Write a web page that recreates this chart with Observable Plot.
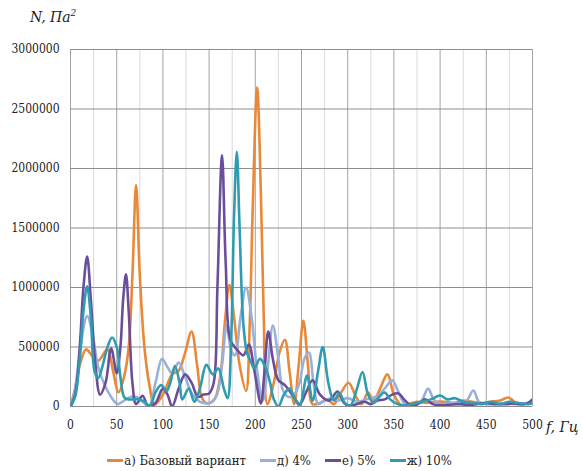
<!DOCTYPE html>
<html>
<head>
<meta charset="utf-8">
<script src="https://cdn.jsdelivr.net/npm/d3@7"></script>
<script src="https://cdn.jsdelivr.net/npm/@observablehq/plot@0.6"></script>
<style>
  body { margin: 0; background: #fff; }
  #wrap { position: relative; width: 583px; height: 471px; font-family: "DejaVu Serif Condensed", "DejaVu Serif", serif; font-stretch: condensed; color: #222; }
  .lbl { position: absolute; font-style: italic; font-size: 15.5px; white-space: nowrap; }
  #legend { position: absolute; left: 0; top: 453px; width: 583px; display: flex; justify-content: center; gap: 14px; font-size: 13px; margin-left: -12px; }
  .item { display: flex; align-items: center; }
  .sw { width: 16px; height: 3px; margin-right: 1px; }
  svg text { font-stretch: condensed; }
</style>
</head>
<body>
<div id="wrap">
  <div id="chart"></div>
  <div class="lbl" style="left:30px; top:7px;">N, Па<sup style="font-size:10px">2</sup></div>
  <div class="lbl" style="left:546px; top:418px;">f, Гц</div>
  <div id="legend"></div>
</div>
<script>
const seriesNames = ["а) Базовый вариант", "д) 4%", "е) 5%", "ж) 10%"];
const seriesColors = ["#E8893A", "#98B1D9", "#6B4E9B", "#2F9CB1"];

const xTicks = [0, 50, 100, 150, 200, 250, 300, 350, 400, 450, 500];
const xMinor = [25, 75, 125, 175, 225, 275, 325, 375, 425, 475];
const yTicks = [0, 500000, 1000000, 1500000, 2000000, 2500000, 3000000];

const fBase = [0,5,10,17,23,30,40,46,52,58,63,67,71,75,80,85,91,100,110,117,124,131,137,142,147,155,162,167,172,177,183,190,194,197,202,206,209,213,220,226,232,237,242,247,252,257,262,270,278,285,293,301,309,315,322,328,335,343,350,358,365,375,385,395,405,415,425,435,445,455,465,474,482,490,500];
const vBase = [0,150000,350000,480000,430000,385000,480000,300000,120000,250000,500000,1100000,1860000,1100000,500000,200000,15000,100000,270000,300000,450000,630000,350000,80000,30000,50000,250000,700000,1020000,750000,350000,130000,700000,1600000,2680000,1800000,800000,20000,200000,450000,560000,300000,20000,350000,720000,350000,20000,30000,60000,20000,120000,200000,80000,20000,118000,50000,150000,270000,100000,10000,20000,40000,30000,40000,40000,30000,50000,40000,30000,40000,50000,76000,30000,20000,30000];

const f4 = [0,5,10,18,24,30,37,44,51,58,65,72,78,85,92,99,105,110,117,124,132,140,150,158,164,169,174,178,184,190,196,202,208,213,219,225,230,236,242,248,253,258,263,268,275,283,290,300,310,320,330,340,348,355,362,372,380,387,393,400,410,420,428,436,442,450,460,470,480,490,500];
const v4 = [0,150000,450000,760000,600000,330000,180000,80000,20000,50000,80000,80000,40000,5000,200000,400000,330000,280000,370000,250000,100000,40000,30000,90000,350000,680000,470000,430000,750000,1000000,750000,300000,50000,300000,680000,400000,134000,80000,100000,200000,400000,454000,200000,20000,50000,70000,50000,70000,40000,60000,80000,150000,220000,120000,20000,15000,50000,150000,60000,20000,30000,30000,40000,134000,40000,20000,20000,30000,20000,20000,40000];

const f5 = [0,5,10,14,18,22,27,32,38,44,50,54,57,60,63,67,71,78,84,92,100,105,110,117,124,131,138,144,150,155,159,164,168,173,180,187,193,199,206,210,214,219,225,232,240,248,255,262,270,280,289,296,302,310,318,325,332,340,348,355,362,370,378,384,392,400,410,420,430,440,450,460,470,480,490,495,500];
const v5 = [0,100000,500000,1000000,1260000,900000,350000,100000,200000,490000,280000,500000,900000,1110000,800000,200000,20000,90000,5000,30000,150000,100000,0,150000,270000,200000,80000,100000,110000,200000,1000000,2110000,1200000,560000,480000,430000,520000,300000,25000,300000,630000,400000,220000,180000,100000,20000,120000,220000,100000,50000,126000,30000,5000,20000,40000,20000,50000,60000,100000,110000,50000,5000,30000,60000,20000,10000,15000,20000,15000,20000,30000,20000,20000,25000,20000,30000,60000];

const f10 = [0,5,10,14,18,22,26,30,35,40,45,50,54,58,62,68,74,80,86,92,98,104,108,113,118,121,128,134,140,147,154,160,166,170,174,177,180,183,187,191,195,199,205,211,216,220,225,231,237,243,248,256,262,268,273,279,285,291,297,303,310,316,322,328,334,340,346,354,362,370,380,390,400,408,416,425,435,445,455,465,475,485,495,500];
const v10 = [0,80000,400000,800000,1010000,750000,300000,240000,350000,500000,580000,500000,250000,80000,60000,60000,60000,40000,5000,120000,180000,130000,200000,340000,200000,60000,150000,40000,150000,350000,270000,320000,150000,70000,600000,1600000,2140000,1500000,700000,450000,380000,320000,400000,330000,200000,60000,0,100000,150000,60000,10000,260000,50000,300000,500000,200000,50000,110000,30000,10000,150000,290000,100000,30000,80000,118000,60000,20000,10000,20000,40000,60000,92000,60000,70000,40000,30000,20000,40000,20000,40000,30000,20000,30000];

const table = [];
[[fBase, vBase], [f4, v4], [f5, v5], [f10, v10]].forEach(([fs, vs], k) => {
  fs.forEach((f, i) => table.push({f, v: vs[i], s: seriesNames[k]}));
});

const chart = Plot.plot({
  width: 583,
  height: 442,
  marginLeft: 70,
  marginRight: 51,
  marginTop: 49,
  marginBottom: 36,
  style: {fontFamily: "'DejaVu Serif Condensed', 'DejaVu Serif', serif", fontSize: "12px", color: "#222", background: "#fff"},
  x: {domain: [0, 500], ticks: xTicks, tickSize: 0, tickPadding: 14, label: null, tickFormat: d => String(d)},
  y: {domain: [0, 3000000], ticks: yTicks, tickSize: 0, tickPadding: 11, label: null, tickFormat: d => String(d)},
  color: {domain: seriesNames, range: seriesColors},
  marks: [
    Plot.ruleX(xMinor, {stroke: "#dadada", strokeWidth: 1}),
    Plot.ruleX(xTicks, {stroke: "#a3a3a3", strokeWidth: 1}),
    Plot.ruleY(yTicks, {stroke: "#8e8e8e", strokeWidth: 1}),
    Plot.line(table, {x: "f", y: "v", z: "s", stroke: "s", strokeWidth: 2.6, curve: "catmull-rom", clip: true})
  ]
});
document.getElementById("chart").appendChild(chart);

const legend = document.getElementById("legend");
seriesNames.forEach((n, i) => {
  const it = document.createElement("div");
  it.className = "item";
  const sw = document.createElement("div");
  sw.className = "sw";
  sw.style.background = seriesColors[i];
  const t = document.createElement("span");
  t.textContent = n;
  it.appendChild(sw); it.appendChild(t);
  legend.appendChild(it);
});
</script>
</body>
</html>
